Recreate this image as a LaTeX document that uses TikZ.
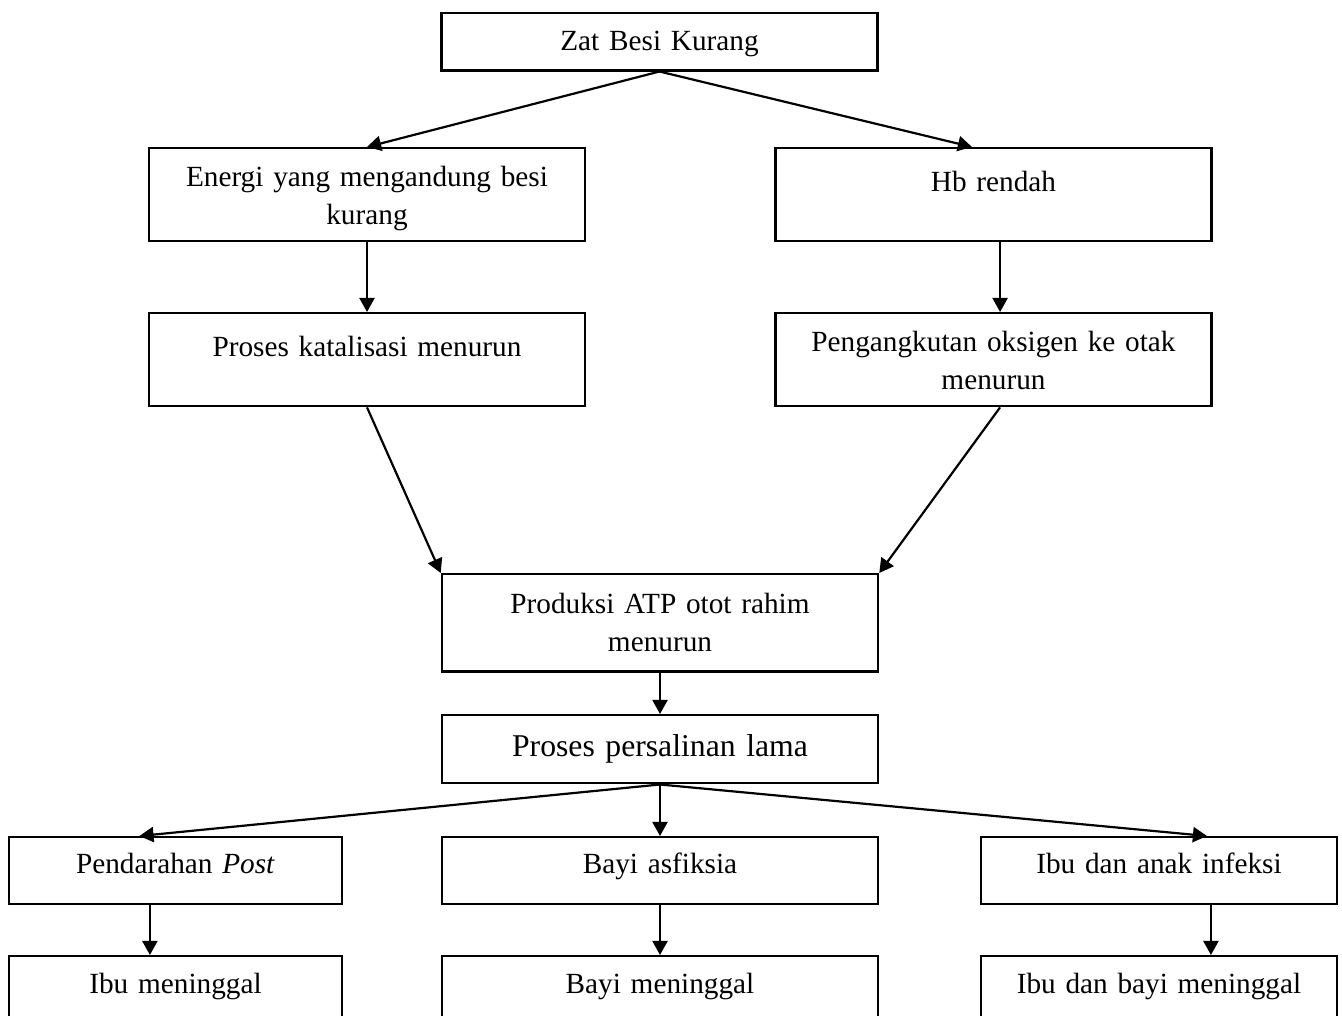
\documentclass[tikz,border=0pt]{standalone}
\usepackage{fontspec}
\setmainfont{Liberation Serif}
\usetikzlibrary{arrows.meta}
\tikzstyle{every node}=[thick]
\tikzstyle{box}=[draw,line width=1pt,anchor=north,align=center,inner sep=0pt,text width=178.8pt,font=\fontsize{12}{15.6}\selectfont]
\tikzstyle{twoline}=[text height=15.6pt,text depth=22.5pt]
\tikzstyle{oneline}=[text height=17.6pt,text depth=20.5pt]
\tikzstyle{rowbox}=[text height=15pt,text depth=12.3pt]

\begin{document}
\begin{tikzpicture}[x=0.41pt,y=-0.41pt,>={Triangle[length=5.8pt,width=6.2pt]},line width=0.9pt]
  \useasboundingbox (0,0) rectangle (1342,1015);
  \node(zat)[box,text height=15.2pt,text depth=8.2pt] at (659.5,12) {Zat Besi Kurang};
  \node(energi)[box,twoline] at (367,147) {Energi yang mengandung besi\\kurang};
  \node(hb)[box,oneline] at (993.5,147) {Hb rendah};
  \node(katalis)[box,oneline] at (367,312) {Proses katalisasi menurun};
  \node(oksigen)[box,twoline] at (993.5,312) {Pengangkutan oksigen ke otak\\menurun};
  \node(atp)[box,twoline,text height=16pt,text depth=23.8pt] at (660,573) {Produksi ATP otot rahim\\menurun};
  \node(salin)[box,text height=16.8pt,text depth=11.1pt,font=\fontsize{13}{16}\selectfont] at (660,714) {Proses persalinan lama};
  % akibat
  \node(darah)[box,rowbox,text width=136.5pt] at (175.5,836) {Pendarahan \textit{Post}};
  \node(asfiksia)[box,rowbox] at (660,836) {Bayi asfiksia};
  \node(infeksi)[box,rowbox,text width=146pt] at (1159,836) {Ibu dan anak infeksi};
  \node(ibu)[box,rowbox,text width=136.5pt,text height=15.2pt] at (175.5,955) {Ibu meninggal};
  \node(bayi)[box,rowbox,text height=15.2pt] at (660,955) {Bayi meninggal};
  \node(ibubayi)[box,rowbox,text width=146pt,text height=15.2pt] at (1159,955) {Ibu dan bayi meninggal};
  \path[->] (zat.south) edge (energi.north)
            (zat.south) edge ([xshift=-8.8pt]hb.north)
            (energi.south) edge (katalis.north)
            ([xshift=2.7pt]hb.south) edge ([xshift=2.7pt]oksigen.north)
            (katalis.south) edge (atp.north west)
            ([xshift=2.7pt]oksigen.south) edge (atp.north east)
            (atp.south) edge (salin.north)
            (salin.south) edge ([xshift=-14.8pt]darah.north)
            (salin.south) edge (asfiksia.north)
            (salin.south) edge ([xshift=19.7pt]infeksi.north)
            ([xshift=-10.5pt]darah.south) edge ([xshift=-10.5pt]ibu.north)
            (asfiksia.south) edge (bayi.north)
            ([xshift=21.3pt]infeksi.south) edge ([xshift=21.3pt]ibubayi.north);
\end{tikzpicture}
\end{document}
